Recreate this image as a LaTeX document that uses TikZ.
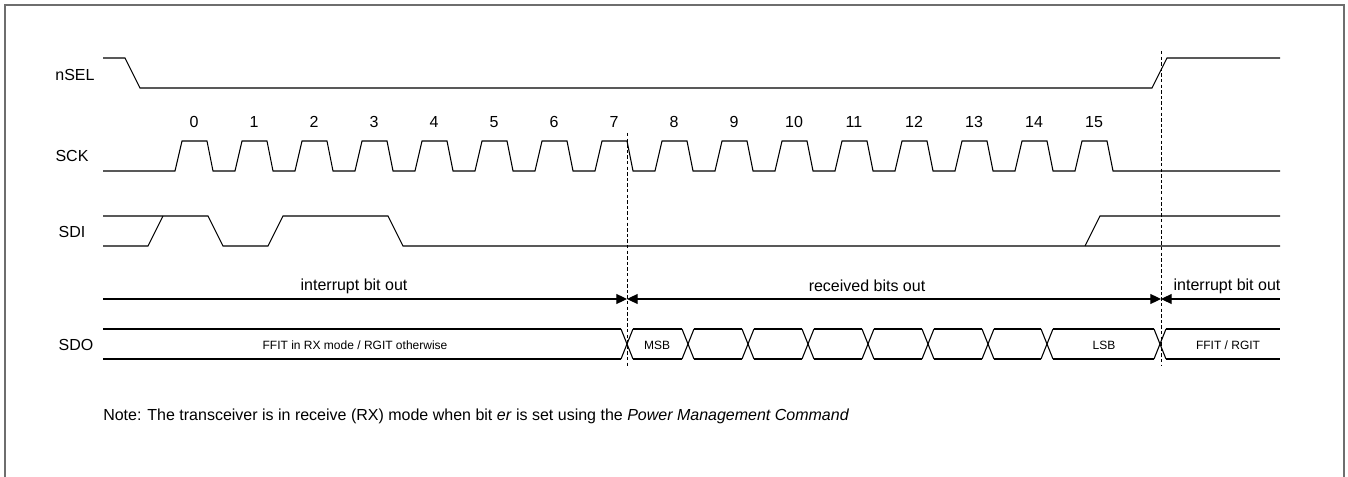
\documentclass[tikz,border=0pt]{standalone}
\usepackage{fontspec}
\setmainfont{Liberation Sans}
\usetikzlibrary{arrows.meta}
\definecolor{framegray}{HTML}{6E6E6E}
\begin{document}
\begin{tikzpicture}[x=0.75pt,y=-0.75pt,
  sig/.style={line width=0.8pt, line join=miter, black},
  edge/.style={line width=0.6pt, black!80},
  lbl/.style={font=\fontsize{12}{14}\selectfont, inner sep=0pt},
  small/.style={font=\fontsize{9}{11}\selectfont, inner sep=0pt},
  vmark/.style={line width=0.7pt, dash pattern=on 2.6pt off 1.6pt},
  span/.style={line width=0.8pt},
  tip/.style={Triangle[length=8pt,width=7.5pt]}]
\useasboundingbox (0,0) rectangle (1348,477);
% frame (open at the bottom)
\draw[framegray, line width=0.8pt] (5,477) -- (5,5) -- (1344,5) -- (1344,477);

% signal names
\node[lbl] (lnsel) at (75,75) {nSEL};
\node[lbl] (lsck)  at (72,156) {SCK};
\node[lbl] (lsdi)  at (72,232) {SDI};
\node[lbl] (lsdo)  at (76,345) {SDO};

% nSEL
\draw[sig] (103,58) -- (125,58) -- (140,88) -- (1152,88) -- (1167,58) -- (1280,58);

% SCK
\draw[sig] (103,171)
  foreach \k in {0,...,15} { -- ({175+60*\k},171) -- ({182+60*\k},141) -- ({207+60*\k},141) -- ({213+60*\k},171) }
  -- (1280,171);
\foreach \k in {0,...,15} {
  \node[lbl] (n\k) at ({194+60*\k},122) {\k};
}

% SDI
\draw[sig] (103,216) -- (208,216) -- (223,246) -- (268,246) -- (283,216) -- (388,216) -- (403,246) -- (1280,246);
\draw[sig] (103,246) -- (148,246) -- (163,216);
\draw[sig] (1085,246) -- (1100,216) -- (1280,216);

% dashed markers
\coordinate (m1top) at (627,133);
\coordinate (m1bot) at (627,366);
\coordinate (m2top) at (1161,51);
\coordinate (m2bot) at (1161,366);
\draw[vmark] (m1top) -- (m1bot);
\draw[vmark] (m2top) -- (m2bot);

% span arrows
\coordinate (a0) at (103,299);
\coordinate (a1) at (627,299);
\coordinate (a2) at (1161,299);
\coordinate (a3) at (1280,299);
\draw[span, -{Triangle[length=8pt,width=7.5pt]}] (a0) -- (a1);
\draw[span, {Triangle[length=8pt,width=7.5pt]}-{Triangle[length=8pt,width=7.5pt]}] (a1) -- (a2);
\draw[span, {Triangle[length=8pt,width=7.5pt]}-] (a2) -- (a3);
\node[lbl] (t1) at (354,286) {interrupt bit out};
\node[lbl] (t2) at (867,286) {received bits out};
\node[lbl] (t3) at (1227,286) {interrupt bit out};

% SDO bus
\def\h{6}
\draw[sig] (103,329) -- ({627-\h},329);
\draw[sig] (103,359) -- ({627-\h},359);
\foreach \a/\b in {627/688,688/748,748/808,808/868,868/928,928/988,988/1047,1047/1160} {
  \draw[sig] ({\a+\h},329) -- ({\b-\h},329);
  \draw[sig] ({\a+\h},359) -- ({\b-\h},359);
}
\foreach \c in {627,688,748,808,868,928,988,1047,1160} {
  \draw[sig] ({\c-\h},329) -- ({\c+\h},359);
  \draw[sig] ({\c-\h},359) -- ({\c+\h},329);
}
\draw[sig] ({1160+\h},329) -- (1280,329);
\draw[sig] ({1160+\h},359) -- (1280,359);
\node[small] (d0) at (355,345) {FFIT in RX mode / RGIT otherwise};
\node[small] (d1) at (657,345) {MSB};
\node[small] (d2) at (1104,345) {LSB};
\node[small] (d3) at (1228,345) {FFIT / RGIT};

% note
\node[lbl, anchor=base west] (note) at (103,420)
  {Note: The transceiver is in receive (RX) mode when bit \textit{er} is set using the \textit{Power Management Command}};
\end{tikzpicture}
\end{document}
